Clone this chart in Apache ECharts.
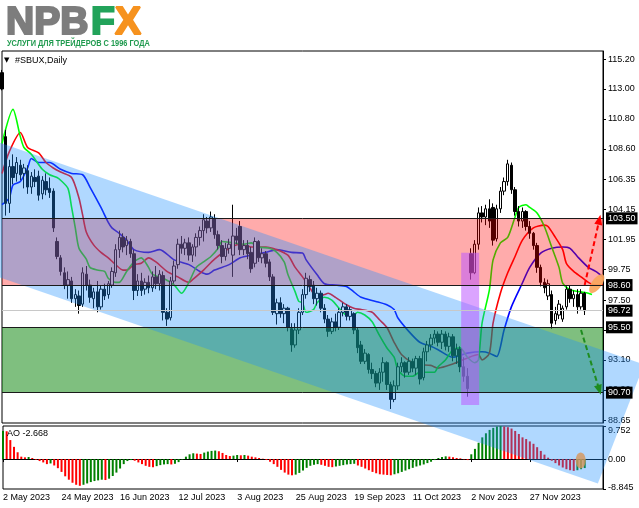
<!DOCTYPE html>
<html><head><meta charset="utf-8">
<script src="https://cdn.jsdelivr.net/npm/echarts@6/dist/echarts.min.js"></script>
<style>html,body{margin:0;padding:0;background:#fff}#c{width:639px;height:508px}</style>
</head><body><div id="c"></div>
<script>
// ---------- data ----------
const dateLabels = ['2 May 2023','24 May 2023','16 Jun 2023','12 Jul 2023','3 Aug 2023','25 Aug 2023','19 Sep 2023','11 Oct 2023','2 Nov 2023','27 Nov 2023'];
const labelStep = 16;
const slotCount = 165;
const open = [114.2,109.5,104.6,107.3,106.8,107.4,106.8,107.0,105.8,106.5,106.6,105.3,106.2,105.7,105.5,101.8,100.6,99.5,98.6,98.9,
97.6,97.8,97.2,99.4,98.6,97.6,98.1,97.0,98.3,97.9,98.6,99.5,101.2,102.1,101.5,101.8,100.9,98.2,98.9,98.3,
98.8,98.4,99.2,98.7,99.3,96.6,96.2,98.9,100.1,101.6,101.3,101.7,100.8,101.4,102.1,102.6,103.3,102.8,103.5,102.3,
101.5,100.7,101.3,100.8,102.2,102.9,101.2,101.5,101.0,100.2,101.8,100.6,100.9,100.3,99.2,96.5,97.3,96.5,96.9,95.4,
94.2,95.3,96.6,97.9,99.0,98.6,97.6,98.0,96.9,96.1,95.2,95.9,95.5,96.6,97.0,96.3,96.5,95.3,94.2,93.0,
93.5,92.4,92.1,91.4,92.2,92.9,91.3,90.2,91.2,92.6,92.9,92.2,93.0,92.5,93.2,91.8,93.7,94.2,94.7,95.0,
94.4,95.0,94.1,94.8,93.4,93.9,92.6,91.9,100.9,99.5,101.6,103.9,103.6,104.2,104.3,102.0,104.2,105.5,106.2,107.4,
105.6,104.0,103.3,104.0,102.9,102.4,101.5,99.9,98.8,97.8,97.9,96.0,96.4,96.1,97.0,98.3,97.6,97.9,97.0,98.0];
const high = [114.4,110.0,107.8,108.2,108.0,107.8,107.5,107.4,106.9,107.1,107.0,106.6,106.8,106.5,105.7,102.1,100.8,99.9,99.6,99.2,
98.3,98.2,99.9,100.0,99.0,98.4,98.9,98.6,98.7,98.9,99.9,101.6,102.6,102.4,102.2,102.0,101.2,99.4,99.5,99.1,
99.3,99.6,100.0,99.7,99.6,96.9,99.2,100.4,102.0,102.2,102.0,102.1,101.6,102.4,102.9,103.8,103.6,104.0,103.8,102.6,
101.9,101.7,102.0,104.5,102.8,103.3,101.9,101.9,101.4,102.1,101.9,101.3,101.1,100.5,99.4,97.6,97.7,97.2,97.0,95.8,
95.8,96.9,98.3,99.5,99.3,98.9,98.4,98.2,97.2,96.4,96.2,96.5,96.9,97.3,97.2,97.0,96.6,95.5,94.5,93.9,
93.6,92.9,92.3,92.5,93.3,93.0,91.5,91.6,92.9,93.3,93.0,93.3,93.2,93.4,93.4,94.0,94.5,95.0,95.3,95.2,
95.3,95.2,95.1,95.0,94.3,94.1,93.3,92.5,101.3,101.9,104.3,104.4,104.5,104.9,104.6,104.5,105.8,106.5,107.8,107.6,
105.8,104.4,104.3,104.1,103.3,102.5,101.7,100.1,99.1,99.0,98.2,97.0,97.5,97.1,98.5,98.6,98.2,98.3,98.3,98.1];
const low = [112.9,103.7,103.9,106.0,106.2,106.3,105.7,105.3,105.3,105.8,104.8,104.9,105.2,105.0,102.5,100.5,99.3,98.3,97.6,97.3,
97.0,96.5,97.0,98.2,97.3,96.9,96.6,96.8,97.5,97.6,98.4,99.2,100.6,101.0,100.8,100.6,97.5,97.8,97.8,97.9,
98.0,98.1,98.3,98.2,96.0,95.6,96.0,98.7,99.8,100.9,100.8,100.4,100.3,100.7,101.5,101.8,102.4,102.5,102.0,101.2,
100.2,100.4,100.9,99.2,101.6,100.8,100.8,100.5,99.5,99.9,100.3,100.2,99.9,98.9,96.4,95.7,96.2,95.8,95.2,93.7,
94.0,95.0,96.4,97.6,98.1,97.2,97.1,96.6,95.8,94.8,95.0,95.2,95.3,96.3,96.0,96.0,95.0,93.6,92.8,92.8,
92.1,91.7,91.1,90.9,91.5,90.9,89.5,90.0,90.9,92.2,91.8,92.0,92.2,92.0,91.3,91.6,93.0,93.8,94.3,94.1,
93.9,93.8,93.7,93.0,92.8,92.2,91.5,90.4,99.0,99.4,101.2,103.2,103.0,102.8,101.5,101.8,103.9,105.2,105.9,105.3,
103.7,102.9,102.8,102.6,102.0,101.2,99.5,98.5,98.0,97.5,95.4,95.7,96.1,95.9,96.8,97.3,97.0,96.5,96.8,96.4];
const close = [113.0,104.6,107.3,106.5,107.6,106.7,107.2,105.8,106.6,106.2,105.2,106.3,105.6,105.4,102.8,100.7,99.6,98.6,99.0,97.6,
97.9,97.1,99.5,98.6,97.7,98.1,97.0,98.3,97.8,98.7,99.6,101.2,102.1,101.4,101.9,100.9,98.2,98.9,98.2,98.8,
98.4,99.2,98.7,99.4,96.6,96.1,98.9,100.0,101.6,101.3,101.7,100.8,101.4,102.1,102.6,103.4,102.8,103.6,102.3,101.5,
100.7,101.3,101.6,102.2,101.9,101.2,101.5,100.9,99.8,101.8,100.6,100.9,100.2,99.2,96.6,97.3,96.5,96.9,95.5,94.2,
95.3,96.6,97.9,99.1,98.5,97.6,98.0,96.9,96.1,95.2,95.9,95.5,96.6,97.0,96.3,96.8,95.3,94.0,93.0,93.6,
92.4,92.1,91.4,92.2,92.9,91.3,90.2,91.2,92.6,92.9,92.2,93.0,92.5,93.2,91.7,93.7,94.2,94.7,95.0,94.4,
95.0,94.1,94.8,93.4,93.9,92.6,91.9,91.0,99.5,101.6,103.9,103.6,104.2,103.3,101.9,104.2,105.5,106.2,107.5,105.6,
104.0,103.3,104.0,102.9,102.4,101.5,99.9,98.8,98.4,98.7,95.8,96.5,97.2,96.9,98.3,97.6,97.9,97.0,98.0,96.72];
const ao = [8.3,8.2,5.6,3.6,2.0,0.7,0.5,0.6,0.3,-0.2,-0.6,-1.0,-1.5,-1.3,-1.9,-2.7,-3.8,-5.1,-6.1,-7.0,
-7.6,-7.9,-7.6,-7.2,-6.8,-6.5,-6.3,-6.1,-6.2,-5.8,-5.0,-4.0,-2.8,-1.5,-0.6,-0.3,-0.5,-1.0,-1.5,-2.0,
-2.3,-2.4,-2.1,-1.8,-1.6,-1.5,-1.6,-1.4,-0.9,-0.2,0.7,1.4,1.7,1.6,1.5,1.9,2.2,2.4,2.5,2.3,
1.8,1.2,0.9,1.0,1.2,1.1,1.2,1.0,0.7,0.5,0.3,0.1,-0.3,-0.8,-1.5,-2.3,-3.2,-4.0,-4.6,-4.8,
-4.6,-4.1,-3.4,-2.6,-2.0,-1.7,-1.5,-1.7,-2.0,-2.3,-2.4,-2.2,-2.0,-1.8,-1.6,-1.5,-1.4,-1.9,-2.3,-2.8,
-3.3,-3.8,-4.2,-4.5,-4.6,-4.7,-4.8,-4.5,-4.2,-3.8,-3.4,-3.0,-2.6,-2.2,-1.9,-1.6,-1.2,-0.8,-0.3,0.3,
0.6,0.8,0.7,0.5,0.3,0.2,-0.1,-0.3,1.4,3.0,4.8,6.4,7.6,8.6,9.2,9.6,9.752,9.6,9.4,9.0,
8.3,7.4,6.4,5.9,5.2,4.5,3.5,2.4,1.3,0.4,-0.5,-1.2,-1.9,-2.5,-3.0,-3.3,-3.5,-3.3,-3.0,-2.668];
const lips = [[0,109.0],[3,111.5],[5,109.5],[6,108.7],[8,108.2],[11,107.1],[13,106.7],[15,106.5],[16,106.3],[18,105.7],[19,104.3],[20,102.8],[21,101.3],[23,100.5],[24,99.9],[26,99.7],[28,99.6],[29,99.1],[31,98.8],[32,98.8],[34,99.6],[36,100.3],[38,100.6],[40,99.9],[41,99.4],[44,99.1],[47,98.6],[49,98.0],[51,98.8],[53,99.9],[55,100.3],[57,100.7],[59,101.3],[60,101.8],[63,101.7],[66,101.6],[68,101.7],[70,101.4],[73,101.3],[75,101.0],[77,100.3],[78,99.4],[80,98.1],[81,97.4],[82,97.3],[83,96.6],[85,96.8],[86,97.3],[88,97.7],[90,97.5],[92,96.9],[94,96.4],[96,96.4],[97,96.6],[99,96.4],[101,95.9],[103,94.9],[105,94.0],[107,93.3],[108,92.4],[110,91.9],[112,91.9],[114,92.2],[116,92.2],[118,92.2],[119,92.6],[121,93.1],[123,93.85],[125,94.0],[127,93.3],[129,92.9],[130,93.1],[131,95.8],[133,98.25],[134,100.45],[136,101.7],[138,102.1],[140,103.6],[141,104.3],[143,104.5],[144,104.3],[146,103.9],[148,102.9],[150,101.4],[152,99.9],[153,98.75],[155,98.25],[158,98.1],[160,98.0],[161,97.9]];
const teeth = [[0,106.8],[2,108.4],[5,109.8],[7,108.7],[10,108.3],[12,107.6],[14,107.2],[16,106.9],[19,106.5],[21,105.0],[22,103.75],[23,102.5],[25,101.55],[27,101.0],[29,100.6],[31,100.1],[33,99.7],[34,99.7],[36,100.1],[38,100.2],[40,100.6],[42,100.3],[45,99.6],[48,99.2],[51,98.8],[52,99.0],[55,99.7],[58,100.5],[62,101.3],[65,101.6],[68,101.4],[72,101.4],[75,101.2],[78,100.8],[80,99.9],[82,99.2],[84,98.4],[86,97.7],[88,97.9],[89,98.0],[91,97.7],[94,97.15],[96,96.9],[98,96.8],[101,96.6],[103,96.05],[105,95.5],[107,94.4],[109,93.5],[112,92.9],[114,92.75],[117,92.7],[119,92.5],[123,92.8],[127,93.25],[130,93.5],[131,93.1],[133,93.6],[134,95.8],[136,98.0],[138,99.5],[140,100.7],[142,101.9],[145,102.8],[148,103.0],[149,102.9],[151,102.1],[153,101.2],[154,100.2],[156,99.6],[158,99.2],[160,98.8],[162,98.6],[164,98.6]];
const jaw = [[0,104.5],[2,105.0],[3,105.95],[5,106.2],[7,107.2],[8,107.9],[10,107.6],[13,107.6],[16,107.1],[19,106.8],[22,106.7],[24,105.8],[27,104.3],[29,103.2],[30,102.8],[32,102.4],[34,101.9],[36,101.2],[40,101.0],[43,101.2],[47,100.45],[51,100.1],[54,99.6],[56,99.4],[58,99.7],[62,100.1],[65,100.6],[68,100.8],[72,101.0],[75,101.2],[79,101.0],[82,100.95],[83,100.45],[86,99.35],[88,98.7],[91,98.6],[94,98.5],[96,98.1],[98,97.7],[102,97.4],[105,97.15],[107,96.8],[108,96.2],[111,95.2],[114,94.4],[117,94.1],[119,93.85],[123,93.3],[127,93.6],[131,93.7],[133,93.6],[135,93.35],[137,95.3],[139,97.0],[142,98.75],[144,99.9],[147,100.95],[150,101.3],[153,101.4],[155,101.3],[157,100.7],[160,99.9],[162,99.6],[164,99.2]];
const priceTicks = [115.20,113.00,110.80,108.60,106.35,104.15,101.95,99.75,97.50,95.30,93.10,90.90,88.65];
const aoTicks = [9.752, 0, -8.845];
const aoTickText = ['9.752', '0.00', '-8.845'];
const levels = [103.50, 98.60, 95.50, 90.70];
const lastPrice = 96.72;
const redZone = [103.5, 98.6];
const greenZone = [95.5, 90.7];
const channel = [[-1,109.09],[175.2,92.76],[162.6,84.03],[-1,99.19]];
const gapBox = [[125.3,100.97],[130.2,89.8]];
const upArrow = [[159,98.6],[163,103.4]];
const downArrow = [[158,95.3],[163,90.9]];
const ellipseMain = [162.3, 98.7];
const ellipseAO = [157.9, -0.4];
const aoText = 'AO -2.668';
const title = '#SBUX,Daily';

// ---------- chart ----------
const FAM = 'Liberation Sans';
const cats = Array.from({length: slotCount}, (_, i) => String(i));
const candles = open.map((o, i) => [o, close[i], low[i], high[i]]);
const aoData = ao.map((v, i) => ({value: v, itemStyle: {color: (i === 0 || v > ao[i - 1]) ? '#008000' : '#ff0000'}}));

const chart = echarts.init(document.getElementById('c'), null, {renderer: 'canvas'});

function xPix(api, i) {
  const x0 = api.coord([0, 100])[0];
  const x1 = api.coord([slotCount - 1, 100])[0];
  return x0 + (x1 - x0) * i / (slotCount - 1);
}

const option = {
  animation: false,
  backgroundColor: '#fff',
  grid: [
    {left: 2, right: 36, top: 51, height: 372, show: true, borderColor: '#000', borderWidth: 1},
    {left: 2, right: 36, top: 426, height: 63, show: true, borderColor: '#000', borderWidth: 1}
  ],
  xAxis: [
    {gridIndex: 0, type: 'category', data: cats, boundaryGap: false, show: false},
    {gridIndex: 1, type: 'category', data: cats, boundaryGap: false,
      axisLine: {show: true, lineStyle: {color: '#000'}},
      axisTick: {show: true, length: 3, interval: (i) => i % labelStep === 0 && i / labelStep < dateLabels.length, lineStyle: {color: '#000'}},
      axisLabel: {interval: (i) => i % labelStep === 0 && i / labelStep < dateLabels.length,
        formatter: (v, i) => { const k = i / labelStep; return Number.isInteger(k) && k < dateLabels.length ? dateLabels[k] : ''; },
        align: 'left', margin: 4, color: '#000', fontSize: 9, fontFamily: FAM},
      splitLine: {show: false}}
  ],
  yAxis: [
    {gridIndex: 0, type: 'value', position: 'right', min: 88.47, max: 115.79, scale: true,
      axisLine: {show: true, lineStyle: {color: '#000'}},
      axisTick: {show: true, length: 3, customValues: priceTicks, lineStyle: {color: '#000'}},
      axisLabel: {customValues: priceTicks, formatter: (v) => v.toFixed(2), color: '#000', fontSize: 9, fontFamily: FAM, margin: 5},
      splitLine: {show: false}},
    {gridIndex: 1, type: 'value', position: 'right', min: -8.845, max: 9.752,
      axisLine: {show: true, lineStyle: {color: '#000'}},
      axisTick: {show: true, length: 3, customValues: aoTicks, lineStyle: {color: '#000'}},
      axisLabel: {customValues: aoTicks, margin: 5, color: '#000', fontSize: 9, fontFamily: FAM,
        formatter: (v) => {
          const k = aoTicks.findIndex(t => Math.abs(t - v) < 1e-6);
          const s = k >= 0 ? aoTickText[k] : '';
          if (k === 0) return '{t|' + s + '}';
          if (k === aoTicks.length - 1) return '{b|' + s + '}';
          return s;
        },
        rich: {t: {padding: [9, 0, 0, 0], fontSize: 9, fontFamily: FAM, color: '#000'},
               b: {padding: [0, 0, 2, 0], fontSize: 9, fontFamily: FAM, color: '#000'}}},
      splitLine: {show: false}}
  ],
  series: [
    {type: 'candlestick', xAxisIndex: 0, yAxisIndex: 0, data: candles, barWidth: 3, z: 2,
      itemStyle: {color: '#ffffff', color0: '#000000', borderColor: '#000000', borderColor0: '#000000', borderWidth: 1}},
    {type: 'line', xAxisIndex: 0, yAxisIndex: 0, data: jaw, showSymbol: false, smooth: 0.25, z: 2,
      lineStyle: {color: '#0000ff', width: 1.6}},
    {type: 'line', xAxisIndex: 0, yAxisIndex: 0, data: teeth, showSymbol: false, smooth: 0.25, z: 2,
      lineStyle: {color: '#ff0000', width: 1.6}},
    {type: 'line', xAxisIndex: 0, yAxisIndex: 0, data: lips, showSymbol: false, smooth: 0.25, z: 2,
      lineStyle: {color: '#00ff00', width: 1.6}},
    {type: 'bar', xAxisIndex: 1, yAxisIndex: 1, data: aoData, barWidth: 2, z: 2},
    {type: 'custom', xAxisIndex: 0, yAxisIndex: 0, data: [[0]], clip: false, z: 3, silent: true,
      renderItem: (params, api) => {
        const X = (i) => xPix(api, i);
        const Y = (v) => api.coord([0, v])[1];
        const xL = X(0), xR = X(slotCount - 1);
        const band = (a, b, fill) => ({type: 'rect', shape: {x: xL, y: Y(a), width: xR - xL, height: Y(b) - Y(a)}, style: {fill}});
        return {type: 'group', children: [
          band(redZone[0], redZone[1], 'rgba(255,0,0,0.33)'),
          band(greenZone[0], greenZone[1], 'rgba(0,128,0,0.5)'),
          {type: 'polygon', shape: {points: channel.map(([i, v]) => [X(i), Y(v)])}, style: {fill: 'rgba(30,144,255,0.35)'}},
          {type: 'rect', shape: {x: X(gapBox[0][0]), y: Y(gapBox[0][1]), width: X(gapBox[1][0]) - X(gapBox[0][0]), height: Y(gapBox[1][1]) - Y(gapBox[0][1])}, style: {fill: 'rgba(190,90,255,0.55)'}},
          {type: 'ellipse', x: X(ellipseMain[0]), y: Y(ellipseMain[1]), rotation: 0.95, shape: {cx: 0, cy: 0, rx: 11, ry: 5}, style: {fill: 'rgba(250,165,90,0.9)'}}
        ]};
      }},
    {type: 'custom', xAxisIndex: 1, yAxisIndex: 1, data: [[0]], clip: false, z: 3, silent: true,
      renderItem: (params, api) => {
        const X = (i) => xPix(api, i);
        return {type: 'ellipse', x: X(ellipseAO[0]), y: api.coord([0, ellipseAO[1]])[1], shape: {cx: 0, cy: 0, rx: 5, ry: 8}, style: {fill: 'rgba(215,150,90,0.8)'}};
      }},
    {type: 'line', xAxisIndex: 0, yAxisIndex: 0, data: [], clip: false, z: 4,
      markLine: {silent: true, symbol: 'none', animation: false,
        label: {show: true, position: 'end', distance: 3, formatter: (p) => Number(p.value).toFixed(2),
          backgroundColor: '#000', color: '#fff', padding: [2, 2, 1, 2], fontSize: 9, fontFamily: FAM},
        data: [{yAxis: lastPrice, lineStyle: {color: '#c8c8c8', width: 1, type: 'solid'}}]
          .concat(levels.map(v => ({yAxis: v, lineStyle: {color: '#1a1a1a', width: 1, type: 'solid'}})))}},
    {type: 'line', xAxisIndex: 0, yAxisIndex: 0, data: [], clip: false, z: 4,
      markLine: {silent: true, symbol: ['none', 'triangle'], symbolSize: [8, 10], animation: false,
        label: {show: false},
        data: [
          [{coord: upArrow[0], lineStyle: {color: '#ff0000', width: 2, type: [5, 3]}}, {coord: upArrow[1]}],
          [{coord: downArrow[0], lineStyle: {color: '#1e8c1e', width: 2, type: [5, 3]}}, {coord: downArrow[1]}]
        ]}}
  ],
  graphic: [
    {type: 'text', x: 6, y: 23, style: {text: 'NPB', fill: '#7d7d7d', stroke: '#7d7d7d', lineWidth: 2.2, fontSize: 39, fontWeight: 'bold', fontFamily: FAM, verticalAlign: 'middle'}},
    {type: 'text', x: 91, y: 23, style: {text: 'F', fill: '#22a35a', stroke: '#22a35a', lineWidth: 2.2, fontSize: 39, fontWeight: 'bold', fontFamily: FAM, verticalAlign: 'middle'}},
    {type: 'text', x: 115, y: 23, style: {text: 'X', fill: '#f6921e', stroke: '#f6921e', lineWidth: 2.2, fontSize: 39, fontWeight: 'bold', fontFamily: FAM, verticalAlign: 'middle'}},
    {type: 'text', x: 7, y: 44, scaleX: 0.82, style: {text: 'УСЛУГИ ДЛЯ ТРЕЙДЕРОВ С 1996 ГОДА', fill: '#1f9a4e', fontSize: 9, fontWeight: 'bold', fontFamily: FAM, verticalAlign: 'middle'}},
    {type: 'text', x: 4, y: 60, style: {text: '▼', fill: '#000', fontSize: 7, fontFamily: 'DejaVu Sans', verticalAlign: 'middle'}},
    {type: 'text', x: 15, y: 60.5, style: {text: title, fill: '#000', fontSize: 9, fontFamily: FAM, verticalAlign: 'middle'}},
    {type: 'text', x: 7, y: 433.5, z: 10, style: {text: aoText, fill: '#000', fontSize: 9, fontFamily: FAM, verticalAlign: 'middle'}}
  ]
};
chart.setOption(option);
</script>
</body></html>
